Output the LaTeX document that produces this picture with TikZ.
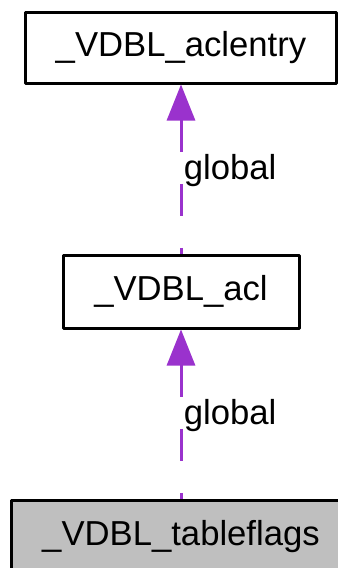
\documentclass[tikz,border=0pt]{standalone}
\usepackage{fontspec}
\setmainfont{Liberation Sans}
\usetikzlibrary{arrows.meta}
\definecolor{linkpurple}{HTML}{9A32CD}
\definecolor{boxgray}{HTML}{BFBFBF}
\tikzset{
cls/.style={shape=rectangle, draw=black, line width=2.25pt, line join=round, inner sep=0pt},
uses/.style={draw=linkpurple, line width=2.25pt, dash pattern=on 24pt off 24pt, {Triangle[length=27pt,width=21pt]}-},
}

\begin{document}
\begin{tikzpicture}[x=0.75pt, y=-0.75pt, font=\fontsize{26}{31}\selectfont]
    \path[use as bounding box] (0,0) rectangle (338,568);
    \clip (0,0) rectangle (338,568);

                \node[cls, minimum width=233.25pt, minimum height=53.25pt] (aclentry) at (181,47.5) {\_VDBL\_aclentry};
                \node[cls, minimum width=177pt, minimum height=54.75pt] (acl) at (181,291.5) {\_VDBL\_acl};
                \node[cls, fill=boxgray, minimum width=255pt, minimum height=54.75pt] (tableflags) at (181,536.5) {\_VDBL\_tableflags};

                \draw[uses] (aclentry) -- (acl) node[midway, right, inner sep=1pt, yshift=-1.5pt] {global};
                \draw[uses] (acl) -- (tableflags) node[midway, right, inner sep=1pt, yshift=-1.5pt] {global};

            \end{tikzpicture}
\end{document}
